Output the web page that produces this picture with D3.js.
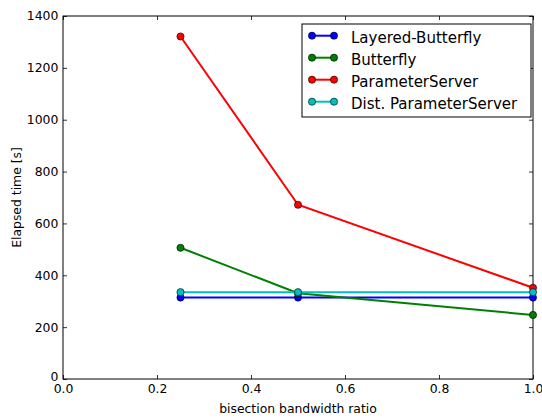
<!DOCTYPE html>
<html>
<head>
<meta charset="utf-8">
<script src="https://cdn.jsdelivr.net/npm/d3@7"></script>
<style>
  body { margin: 0; background: #fff; }
  svg { font-family: "DejaVu Sans", sans-serif; }
</style>
</head>
<body>
<svg width="542" height="419"></svg>
<script>
const ratios = [0.25, 0.5, 1.0];
const seriesNames = ['Layered-Butterfly', 'Butterfly', 'ParameterServer', 'Dist. ParameterServer'];
const layeredButterfly = [314, 314, 314];
const butterfly = [506, 331, 247];
const parameterServer = [1321, 672, 352];
const distParameterServer = [335, 335, 335];
const colors = ['#0000ff', '#008000', '#ff0000', '#00bfbf'];
const xTicks = [0, 0.2, 0.4, 0.6, 0.8, 1.0];
const yTicks = [0, 200, 400, 600, 800, 1000, 1200, 1400];

const series = [layeredButterfly, butterfly, parameterServer, distParameterServer];

let svg = d3.select('svg');
let margin = { left: 63, right: 9, top: 16, bottom: 40 };
let width = 542, height = 419;

let x = d3.scaleLinear().domain([0, 1]).range([margin.left, width - margin.right]);
let y = d3.scaleLinear().domain([0, 1400]).range([height - margin.bottom, margin.top]);

const fs = 12.4;

// axes, ticks inside like matplotlib classic
let axBottom = svg.append('g').attr('transform', `translate(0,${y(0)})`)
    .call(d3.axisBottom(x).tickValues(xTicks).tickFormat(d3.format('.1f')).tickSizeInner(-4).tickSizeOuter(0).tickPadding(5.5));
let axTop = svg.append('g').attr('transform', `translate(0,${y(1400)})`)
    .call(d3.axisTop(x).tickValues(xTicks).tickFormat('').tickSizeInner(-4).tickSizeOuter(0));
let axLeft = svg.append('g').attr('transform', `translate(${x(0)},0)`)
    .call(d3.axisLeft(y).tickValues(yTicks).tickFormat(d3.format('d')).tickSizeInner(-4).tickSizeOuter(0).tickPadding(4.7));
let axRight = svg.append('g').attr('transform', `translate(${x(1)},0)`)
    .call(d3.axisRight(y).tickValues(yTicks).tickFormat('').tickSizeInner(-4).tickSizeOuter(0));

[axBottom, axTop, axLeft, axRight].forEach(g => {
    g.select('.domain').remove();
    g.selectAll('line').attr('stroke', '#000').attr('stroke-width', 0.8);
    g.selectAll('text').attr('fill', '#000').attr('font-size', fs).attr('font-family', '"DejaVu Sans", sans-serif');
});
// the zero label sits a little higher, as in the reference
axLeft.selectAll('.tick').filter(d => d === 0).select('text').attr('dy', '0.15em');

svg.append('rect')
    .attr('x', x(0)).attr('y', y(1400))
    .attr('width', x(1) - x(0)).attr('height', y(0) - y(1400))
    .attr('fill', 'none').attr('stroke', '#000').attr('stroke-width', 1);

// axis labels
svg.append('text')
    .attr('x', (x(0) + x(1)) / 2).attr('y', 413)
    .attr('text-anchor', 'middle').attr('font-size', fs)
    .text('bisection bandwidth ratio');
svg.append('text')
    .attr('transform', `translate(21,${(y(0) + y(1400)) / 2}) rotate(-90)`)
    .attr('text-anchor', 'middle').attr('font-size', fs)
    .text('Elapsed time [s]');

// lines + markers
let line = d3.line().x((d, i) => x(ratios[i])).y(d => y(d));
let plot = svg.append('g');
series.forEach((s, k) => {
    plot.append('path')
        .attr('d', line(s))
        .attr('fill', 'none')
        .attr('stroke', colors[k])
        .attr('stroke-width', 2);
    plot.selectAll(null)
        .data(s)
        .enter()
        .append('circle')
        .attr('cx', (d, i) => x(ratios[i]))
        .attr('cy', d => y(d))
        .attr('r', 3.6)
        .attr('fill', colors[k])
        .attr('stroke', '#000')
        .attr('stroke-width', 0.6);
});

// legend
let legend = svg.append('g');
legend.append('rect')
    .attr('x', 302).attr('y', 24)
    .attr('width', 229).attr('height', 93)
    .attr('fill', '#fff').attr('stroke', '#000').attr('stroke-width', 1);
seriesNames.forEach((name, k) => {
    let yy = 35.7 + k * 22;
    legend.append('line')
        .attr('x1', 312).attr('x2', 334).attr('y1', yy).attr('y2', yy)
        .attr('stroke', colors[k]).attr('stroke-width', 2);
    [312, 334].forEach(cx => {
        legend.append('circle')
            .attr('cx', cx).attr('cy', yy).attr('r', 3.6)
            .attr('fill', colors[k]).attr('stroke', '#000').attr('stroke-width', 0.6);
    });
    legend.append('text')
        .attr('x', 351).attr('y', yy + 7.4)
        .attr('font-size', 15)
        .text(name);
});
</script>
</body>
</html>
